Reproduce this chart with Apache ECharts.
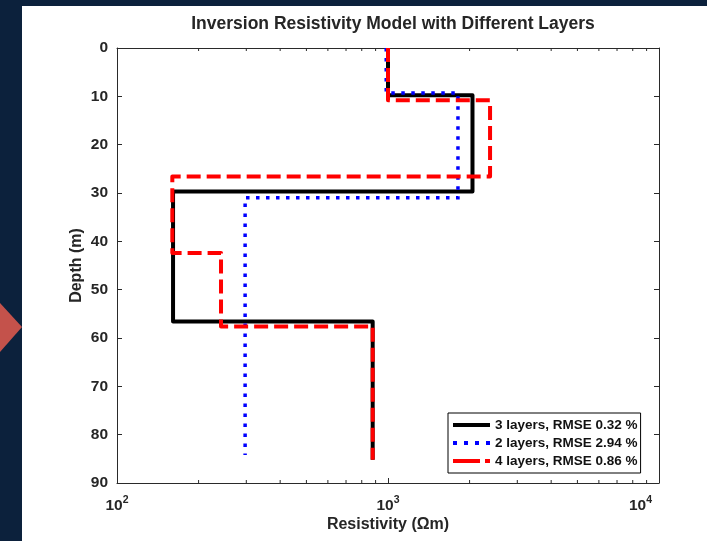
<!DOCTYPE html>
<html>
<head>
<meta charset="utf-8">
<title>Inversion Resistivity Model with Different Layers</title>
<script src="https://cdn.jsdelivr.net/npm/echarts@6/dist/echarts.min.js"></script>
<style>
  html, body { margin: 0; padding: 0; background: #0c213c; }
  #chart { width: 707px; height: 541px; }
</style>
</head>
<body>
<div id="chart"></div>
<script>
// Layered resistivity models: resistivity of each layer (ohm-m),
// depth of each layer top (m) and depth where the profile ends (m).
const names = ['3 layers, RMSE 0.32 %', '2 layers, RMSE 2.94 %', '4 layers, RMSE 0.86 %'];

const res3 = [1000, 2050, 161, 878];
const tops3 = [0, 9.8, 29.7, 56.6];
const end3 = 85.2;

const res2 = [985, 1812, 297];
const tops2 = [0, 9.3, 31.0];
const end2 = 84.2;

const res4 = [1000, 2380, 160, 242, 878];
const tops4 = [0, 10.8, 26.6, 42.4, 57.6];
const end4 = 85.2;

// Log-axis tick values
const minorTicks = [200, 300, 400, 500, 600, 700, 800, 900,
                    2000, 3000, 4000, 5000, 6000, 7000, 8000, 9000];

// Turn layer tables into a stepped profile [resistivity, depth]
function stepProfile(res, tops, end) {
  const pts = [];
  for (let i = 0; i < res.length; i++) {
    const bottom = i + 1 < tops.length ? tops[i + 1] : end;
    pts.push([res[i], tops[i]]);
    pts.push([res[i], bottom]);
  }
  return pts;
}

const textColor = '#262626';
const axisColor = '#2a2a2a';
const fontFamily = '"Liberation Sans", Arial, Helvetica, sans-serif';

function expLabel(v) {
  const e = Math.round(Math.log10(v));
  if (v === 10000) return '{b|10}{sl|' + e + '}';
  return '{b|10}{s|' + e + '}';
}

// Legend keys drawn as filled paths so the dash pattern shows in the box
const legendIcons = [
  'path://M0,0H37V4H0Z',
  'path://M0,0H4V4H0Z M11,0H15V4H11Z M22,0H26V4H22Z M33,0H37V4H33Z',
  'path://M0,0H27V4H0Z M32,0H37V4H32Z'
];
const lineColors = ['#000000', '#0000ff', '#ff0000'];

const chart = echarts.init(document.getElementById('chart'), null, { renderer: 'canvas' });

const option = {
  backgroundColor: '#0c213c',
  animation: false,
  textStyle: { fontFamily: fontFamily },
  graphic: [
    { type: 'rect', z: -10, shape: { x: 22, y: 6, width: 700, height: 540 }, style: { fill: '#ffffff' } },
    { type: 'polygon', z: -10, shape: { points: [[0, 303], [22, 327], [0, 352]] }, style: { fill: '#c4524b' } }
  ],
  title: {
    text: 'Inversion Resistivity Model with Different Layers',
    left: 388,
    top: 10,
    textAlign: 'center',
    textStyle: { fontSize: 17.5, fontWeight: 'bold', color: textColor, fontFamily: fontFamily }
  },
  grid: { left: 117, top: 48, right: 48, bottom: 58, containLabel: false },
  legend: {
    data: names.map(function (n, i) {
      return { name: n, icon: legendIcons[i], itemStyle: { color: lineColors[i] } };
    }),
    orient: 'vertical',
    left: 448,
    top: 413,
    itemWidth: 37,
    itemHeight: 4,
    itemGap: 2,
    padding: [4, 3, 4, 5],
    backgroundColor: '#ffffff',
    borderColor: '#000000',
    borderWidth: 1,
    borderRadius: 0,
    selectedMode: false,
    textStyle: { fontSize: 13.5, lineHeight: 16, fontWeight: 'bold', color: '#111', fontFamily: fontFamily }
  },
  xAxis: [
    {
      type: 'log', logBase: 10, min: 100, max: 10000,
      position: 'bottom',
      name: 'Resistivity (\u03A9m)',
      nameLocation: 'middle',
      nameGap: 34,
      nameMoveOverlap: false,
      nameTextStyle: { fontSize: 16, fontWeight: 'bold', color: textColor },
      axisLine: { show: true, onZero: false, lineStyle: { color: axisColor, width: 1 } },
      axisTick: { show: true, inside: true, length: 5, lineStyle: { color: axisColor } },
      splitLine: { show: false },
      axisLabel: {
        margin: 8,
        color: textColor,
        showMinLabel: true, showMaxLabel: true,
        formatter: expLabel,
        rich: {
          b: { fontSize: 15.5, fontWeight: 'bold', color: textColor, padding: [7, 0, 0, 0] },
          s: { fontSize: 10.5, fontWeight: 'bold', color: textColor, padding: [0, 0, 5, 0] },
          sl: { fontSize: 10.5, fontWeight: 'bold', color: textColor, padding: [0, 7, 5, 0] }
        },
        alignMaxLabel: 'right'
      }
    },
    {
      type: 'log', logBase: 10, min: 100, max: 10000,
      position: 'top',
      axisLine: { show: true, onZero: false, lineStyle: { color: axisColor, width: 1 } },
      axisTick: { show: true, inside: true, length: 5, lineStyle: { color: axisColor } },
      axisLabel: { show: false },
      splitLine: { show: false }
    }
  ],
  yAxis: [
    {
      type: 'value', inverse: true, min: 0, max: 90, interval: 10,
      position: 'left',
      name: 'Depth (m)',
      nameLocation: 'middle',
      nameGap: 32,
      nameMoveOverlap: false,
      nameTextStyle: { fontSize: 16, fontWeight: 'bold', color: textColor },
      axisLine: { show: true, onZero: false, lineStyle: { color: axisColor, width: 1 } },
      axisTick: { show: true, inside: true, length: 5, lineStyle: { color: axisColor } },
      axisLabel: { margin: 9, fontSize: 15.5, fontWeight: 'bold', color: textColor },
      splitLine: { show: false }
    },
    {
      type: 'value', inverse: true, min: 0, max: 90, interval: 10,
      position: 'right',
      axisLine: { show: true, onZero: false, lineStyle: { color: axisColor, width: 1 } },
      axisTick: { show: true, inside: true, length: 5, lineStyle: { color: axisColor } },
      axisLabel: { show: false },
      splitLine: { show: false }
    }
  ],
  series: [
    {
      name: names[0],
      type: 'line',
      data: stepProfile(res3, tops3, end3),
      showSymbol: false, symbol: 'none',
      lineStyle: { color: lineColors[0], width: 4, join: 'round' },
      itemStyle: { color: lineColors[0] },
      z: 3
    },
    {
      name: names[1],
      type: 'line',
      data: stepProfile(res2, tops2, end2),
      showSymbol: false, symbol: 'none',
      lineStyle: { color: lineColors[1], width: 3.5, type: [3.5, 6.5], cap: 'butt', join: 'miter' },
      itemStyle: { color: lineColors[1] },
      z: 4
    },
    {
      name: names[2],
      type: 'line',
      data: stepProfile(res4, tops4, end4),
      showSymbol: false, symbol: 'none',
      lineStyle: { color: lineColors[2], width: 4, type: [14, 6], cap: 'butt', join: 'round' },
      itemStyle: { color: lineColors[2] },
      z: 5
    },
    {
      // minor ticks of the log axis, inside the top and bottom frame lines
      type: 'custom',
      silent: true,
      clip: false,
      z: 2,
      data: minorTicks.map(function (v) { return [v, 0]; }),
      encode: { x: 0, y: 1 },
      renderItem: function (params, api) {
        const v = api.value(0);
        const top = api.coord([v, 0]);
        const bot = api.coord([v, 90]);
        const st = { stroke: axisColor, lineWidth: 1 };
        return {
          type: 'group',
          children: [
            { type: 'line', shape: { x1: top[0], y1: top[1], x2: top[0], y2: top[1] + 3 }, style: st },
            { type: 'line', shape: { x1: bot[0], y1: bot[1], x2: bot[0], y2: bot[1] - 3 }, style: st }
          ]
        };
      }
    }
  ]
};

chart.setOption(option);
</script>
</body>
</html>
